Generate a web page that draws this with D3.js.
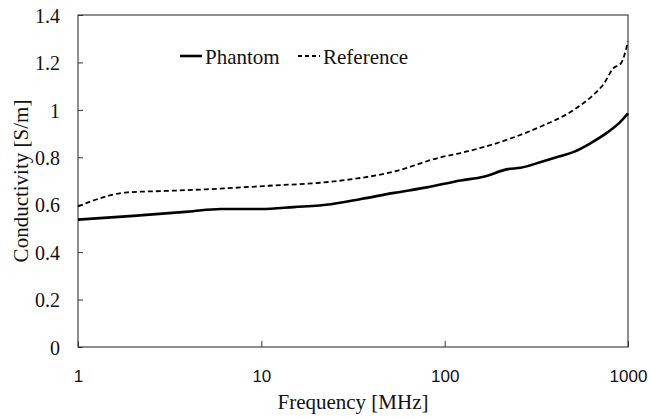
<!DOCTYPE html>
<html>
<head>
<meta charset="utf-8">
<script src="https://cdn.jsdelivr.net/npm/d3@7"></script>
<style>
  body { margin: 0; background: #fff; }
</style>
</head>
<body>
<div id="chart"></div>
<script>
const phantomFreq = [1, 2, 4, 6, 10, 15, 24, 35, 53, 80, 122, 163, 221, 260, 335, 420, 507, 620, 776, 900, 1000];
const phantomVals = [0.537, 0.553, 0.571, 0.582, 0.582, 0.59, 0.602, 0.624, 0.65, 0.673, 0.702, 0.718, 0.75, 0.756, 0.78, 0.803, 0.823, 0.858, 0.906, 0.946, 0.985];

const refFreq = [1, 1.85, 3, 5, 11, 24, 53, 95, 122, 221, 335, 507, 640, 741, 830, 915, 1000];
const refVals = [0.593, 0.652, 0.658, 0.665, 0.68, 0.697, 0.74, 0.8, 0.818, 0.875, 0.93, 1.0, 1.06, 1.112, 1.175, 1.196, 1.288];

const xTicks = [1, 10, 100, 1000];
const yTicks = [0, 0.2, 0.4, 0.6, 0.8, 1, 1.2, 1.4];
const seriesNames = ['Phantom', 'Reference'];

const SERIF = '"Liberation Serif", "Times New Roman", serif';
const SANS = '"Liberation Sans", Arial, sans-serif';

const width = 651, height = 418;
const margin = { top: 15, right: 23, bottom: 71, left: 78 };
const innerWidth = width - margin.left - margin.right;
const innerHeight = height - margin.top - margin.bottom;

const svg = d3.select('#chart').append('svg')
    .attr('width', width)
    .attr('height', height);

const g = svg.append('g')
    .attr('transform', `translate(${margin.left},${margin.top})`);

const x = d3.scaleLog().domain([1, 1000]).range([0, innerWidth]);
const y = d3.scaleLinear().domain([0, 1.4]).range([innerHeight, 0]);

// frame
g.append('rect')
    .attr('width', innerWidth)
    .attr('height', innerHeight)
    .attr('fill', 'none')
    .attr('stroke', '#333')
    .attr('stroke-width', 1.1);

// y axis ticks (inward)
const yAxis = g.append('g')
    .call(d3.axisLeft(y).tickValues(yTicks).tickSizeInner(-5).tickSizeOuter(0).tickPadding(18)
        .tickFormat(d => String(+d.toFixed(1))));
yAxis.select('.domain').remove();
yAxis.selectAll('line').attr('stroke', '#333');
yAxis.selectAll('text')
    .style('font-family', SERIF)
    .style('font-size', '20px')
    .attr('fill', '#111')
    .attr('dy', '0.36em');

// x axis ticks (inward)
const xAxis = g.append('g')
    .attr('transform', `translate(0,${innerHeight})`)
    .call(d3.axisBottom(x).tickValues(xTicks).tickSizeInner(-6).tickSizeOuter(0).tickPadding(23)
        .tickFormat(d3.format('d')));
xAxis.select('.domain').remove();
xAxis.selectAll('line').attr('stroke', '#333');
xAxis.selectAll('text')
    .style('font-family', SANS)
    .style('font-size', '17px')
    .attr('fill', '#111');

// axis titles
g.append('text')
    .attr('x', innerWidth / 2)
    .attr('y', innerHeight + 62)
    .attr('text-anchor', 'middle')
    .style('font-family', SERIF)
    .style('font-size', '21px')
    .attr('fill', '#111')
    .text('Frequency [MHz]');

g.append('text')
    .attr('transform', 'rotate(-90)')
    .attr('x', -innerHeight / 2)
    .attr('y', -50)
    .attr('text-anchor', 'middle')
    .style('font-family', SERIF)
    .style('font-size', '21px')
    .attr('fill', '#111')
    .text('Conductivity [S/m]');

const line = d3.line()
    .x(d => x(d[0]))
    .y(d => y(d[1]))
    .curve(d3.curveMonotoneX);

g.append('path')
    .datum(d3.zip(refFreq, refVals))
    .attr('fill', 'none')
    .attr('stroke', '#000')
    .attr('stroke-width', 1.8)
    .attr('stroke-dasharray', '5,3')
    .attr('d', line);

g.append('path')
    .datum(d3.zip(phantomFreq, phantomVals))
    .attr('fill', 'none')
    .attr('stroke', '#000')
    .attr('stroke-width', 2.6)
    .attr('d', line);

// legend
const legend = svg.append('g');
const legendItems = [
    { name: seriesNames[0], x: 180, dash: null, w: 2.6 },
    { name: seriesNames[1], x: 298, dash: '4,3', w: 1.8 }
];
legendItems.forEach(it => {
    legend.append('line')
        .attr('x1', it.x).attr('x2', it.x + 22)
        .attr('y1', 56).attr('y2', 56)
        .attr('stroke', '#000')
        .attr('stroke-width', it.w)
        .attr('stroke-dasharray', it.dash);
    legend.append('text')
        .attr('x', it.x + 25)
        .attr('y', 64)
        .style('font-family', SERIF)
        .style('font-size', '21px')
        .attr('fill', '#111')
        .text(it.name);
});
</script>
</body>
</html>
